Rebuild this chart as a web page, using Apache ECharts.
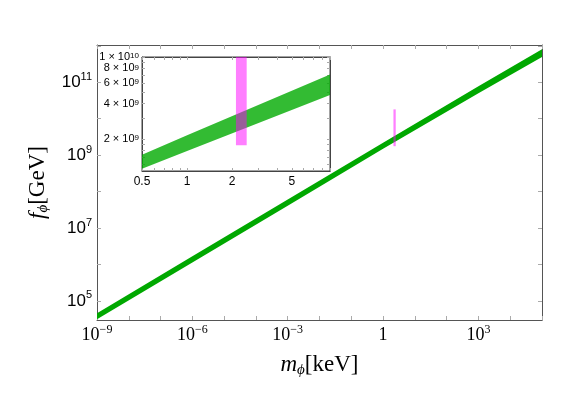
<!DOCTYPE html>
<html>
<head>
<meta charset="utf-8">
<script src="https://cdn.jsdelivr.net/npm/echarts@6/dist/echarts.min.js"></script>
<style>
  html, body { margin: 0; background: #fff; }
  #chart { width: 572px; height: 404px; }
</style>
</head>
<body>
<div id="chart"></div>
<script>
  // main panel band (m in keV, f in GeV)
  const massMain = [1e-9, 1e-6, 1e-3, 1, 1e3, 1e5];
  const fLowMain = [3.15e4, 1.14e6, 4.1e7, 1.5e9, 4.95e10, 4.9e11];
  const fHighMain = [4.6e4, 1.67e6, 6.1e7, 2.2e9, 7.7e10, 8.0e11];

  // inset band
  const massInset = [0.5, 1, 9];
  const fLowInset = [1.106e9, 1.57e9, 4.73e9];
  const fHighInset = [1.46e9, 2.14e9, 7.09e9];

  // magenta bar (same in both panels)
  const barMass = [2.12, 2.5];
  const barF = [1.76e9, 1.8e10];

  // ticks and labels
  const mainXTicks = [1e-9, 1e-8, 1e-7, 1e-6, 1e-5, 1e-4, 1e-3, 1e-2, 1e-1, 1, 1e1, 1e2, 1e3, 1e4, 1e5];
  const mainXLabels = [1e-9, 1e-6, 1e-3, 1, 1e3];
  const mainYTicks = [1e5, 1e6, 1e7, 1e8, 1e9, 1e10, 1e11, 1e12];
  const mainYLabels = [1e5, 1e7, 1e9, 1e11];
  const insetXTicks = [0.5, 0.6, 0.7, 0.8, 0.9, 1, 2, 3, 4, 5, 6, 7, 8, 9];
  const insetXLabels = [0.5, 1, 2, 5];
  const insetYTicks = [1.2e9, 1.4e9, 1.6e9, 1.8e9, 2e9, 3e9, 4e9, 5e9, 6e9, 7e9, 8e9, 9e9, 1e10];
  const insetYLabels = [2e9, 4e9, 6e9, 8e9, 1e10];

  const serif = 'Liberation Serif';
  const sans = 'Liberation Sans';

  function supText(e) {
    return e < 0 ? '\u2212' + (-e) : String(e);
  }

  function powLabel(v) {
    const e = Math.round(Math.log10(v));
    if (e === 0) return '{b|1}';
    return '{b|10}{s|' + supText(e) + '}';
  }

  function sciLabel(v) {
    const e = Math.floor(Math.log10(v) + 1e-9);
    const mant = Math.round(v / Math.pow(10, e));
    return '{b|' + mant + ' \u00d7 10}{s|' + e + '}';
  }

  const mainRich = {
    b: { fontFamily: serif, fontSize: 18, lineHeight: 22, color: '#000' },
    s: { fontFamily: serif, fontSize: 12, lineHeight: 12, verticalAlign: 'top', color: '#000' }
  };
  const mainRichY = {
    b: { fontFamily: sans, fontSize: 17, lineHeight: 22, color: '#000' },
    s: { fontFamily: sans, fontSize: 11, lineHeight: 11, verticalAlign: 'top', color: '#000' }
  };
  // kept short so neighbouring inset labels do not count as overlapping
  const insetRich = {
    b: { fontFamily: sans, fontSize: 11, lineHeight: 10, color: '#000' },
    s: { fontFamily: sans, fontSize: 8, lineHeight: 5, verticalAlign: 'top', color: '#000' }
  };
  const titleRich = {
    i: { fontFamily: serif, fontSize: 23, fontStyle: 'italic', lineHeight: 26, color: '#000' },
    sub: { fontFamily: serif, fontSize: 15, fontStyle: 'italic', lineHeight: 15, verticalAlign: 'bottom', color: '#000' },
    r: { fontFamily: serif, fontSize: 23, lineHeight: 26, color: '#000' }
  };

  function frameAxis(opts) {
    return Object.assign({
      type: 'log',
      axisLine: { show: true, onZero: false, lineStyle: { color: '#555', width: 1 } },
      axisTick: { show: true, inside: true, length: 4, lineStyle: { color: '#aaa', width: 1 } },
      axisLabel: { show: false },
      splitLine: { show: false },
      minorTick: { show: false }
    }, opts);
  }

  function bandSeries(xi, yi, mass, low, high, fill) {
    return {
      type: 'custom',
      xAxisIndex: xi,
      yAxisIndex: yi,
      clip: true,
      z: 3,
      data: mass.map((m, i) => [m, low[i], high[i]]),
      encode: { x: 0, y: [1, 2] },
      renderItem: function (params, api) {
        if (params.dataIndex !== 0) return;
        const pts = [];
        for (let i = 0; i < mass.length; i++) pts.push(api.coord([mass[i], high[i]]));
        for (let i = mass.length - 1; i >= 0; i--) pts.push(api.coord([mass[i], low[i]]));
        return {
          type: 'polygon',
          shape: { points: pts },
          style: { fill: fill }
        };
      }
    };
  }

  function barSeries(xi, yi) {
    return {
      type: 'custom',
      xAxisIndex: xi,
      yAxisIndex: yi,
      clip: true,
      z: 4,
      data: [[barMass[0], barF[0], barMass[1], barF[1]]],
      encode: { x: [0, 2], y: [1, 3] },
      renderItem: function (params, api) {
        const p0 = api.coord([api.value(0), api.value(3)]);
        const p1 = api.coord([api.value(2), api.value(1)]);
        const rect = echarts.graphic.clipRectByRect(
          { x: p0[0], y: p0[1], width: p1[0] - p0[0], height: p1[1] - p0[1] },
          params.coordSys
        );
        return rect && {
          type: 'rect',
          shape: rect,
          style: { fill: 'rgba(255,0,255,0.5)' }
        };
      }
    };
  }

  const chart = echarts.init(document.getElementById('chart'));

  const option = {
    animation: false,
    backgroundColor: '#fff',
    grid: [
      { left: 97, top: 45, width: 445, height: 275, outerBoundsMode: 'none' },
      { left: 142, top: 57, width: 188, height: 114, show: true, backgroundColor: '#fff',
        borderColor: '#444', borderWidth: 1, z: 5, outerBoundsMode: 'none' }
    ],
    xAxis: [
      frameAxis({
        gridIndex: 0, position: 'bottom', min: 1e-9, max: 1e5,
        axisTick: { show: true, inside: true, length: 4, customValues: mainXTicks, lineStyle: { color: '#aaa' } },
        axisLabel: { show: true, customValues: mainXLabels, formatter: powLabel, margin: 4, rich: mainRich },
        name: '{i|m}{sub|\u03d5}{r|[keV]}',
        nameLocation: 'middle',
        nameGap: 32,
        nameTextStyle: { rich: titleRich }
      }),
      frameAxis({
        gridIndex: 0, position: 'top', min: 1e-9, max: 1e5,
        axisTick: { show: true, inside: true, length: 4, customValues: mainXTicks, lineStyle: { color: '#aaa' } }
      }),
      frameAxis({
        gridIndex: 1, position: 'bottom', min: 0.5, max: 9, z: 6,
        axisLine: { show: true, onZero: false, lineStyle: { color: '#444' } },
        axisTick: { show: true, inside: true, length: 3, customValues: insetXTicks, lineStyle: { color: '#aaa' } },
        axisLabel: { show: true, customValues: insetXLabels, margin: 5, color: '#000',
          fontFamily: sans, fontSize: 12 }
      }),
      frameAxis({
        gridIndex: 1, position: 'top', min: 0.5, max: 9, z: 6,
        axisLine: { show: true, onZero: false, lineStyle: { color: '#444' } },
        axisTick: { show: true, inside: true, length: 3, customValues: insetXTicks, lineStyle: { color: '#aaa' } }
      })
    ],
    yAxis: [
      frameAxis({
        gridIndex: 0, position: 'left', min: 3e4, max: 1.05e12,
        axisTick: { show: true, inside: true, length: 4, customValues: mainYTicks, lineStyle: { color: '#aaa' } },
        axisLabel: { show: true, customValues: mainYLabels, formatter: powLabel, margin: 5, rich: mainRichY },
        name: '{i|f}{sub|\u03d5}{r|[GeV]}',
        nameLocation: 'middle',
        nameGap: 46,
        nameRotate: 90,
        nameTextStyle: { rich: titleRich }
      }),
      frameAxis({
        gridIndex: 0, position: 'right', min: 3e4, max: 1.05e12,
        axisTick: { show: true, inside: true, length: 4, customValues: mainYTicks, lineStyle: { color: '#aaa' } }
      }),
      frameAxis({
        gridIndex: 1, position: 'left', min: 1.06e9, max: 1.0001e10, z: 6,
        axisLine: { show: true, onZero: false, lineStyle: { color: '#444' } },
        axisTick: { show: true, inside: true, length: 3, customValues: insetYTicks, lineStyle: { color: '#aaa' } },
        axisLabel: { show: true, customValues: insetYLabels, formatter: sciLabel, margin: 3,
          showMaxLabel: true, hideOverlap: false, rich: insetRich }
      }),
      frameAxis({
        gridIndex: 1, position: 'right', min: 1.06e9, max: 1.0001e10, z: 6,
        axisLine: { show: true, onZero: false, lineStyle: { color: '#444' } },
        axisTick: { show: true, inside: true, length: 3, customValues: insetYTicks, lineStyle: { color: '#aaa' } }
      })
    ],
    series: [
      bandSeries(0, 0, massMain, fLowMain, fHighMain, '#00a800'),
      barSeries(0, 0),
      Object.assign(bandSeries(2, 2, massInset, fLowInset, fHighInset, 'rgba(0,170,0,0.8)'), { z: 7 }),
      Object.assign(barSeries(2, 2), { z: 8 })
    ]
  };

  chart.setOption(option);
</script>
</body>
</html>
